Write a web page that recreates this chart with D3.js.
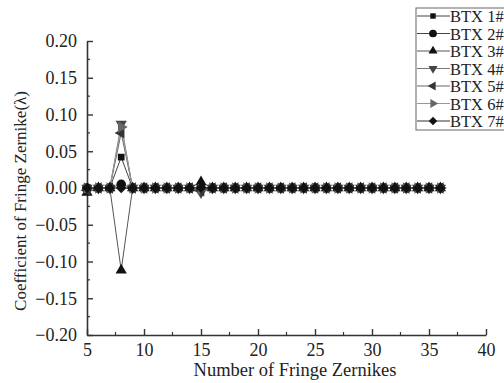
<!DOCTYPE html>
<html>
<head>
<meta charset="utf-8">
<script src="https://cdn.jsdelivr.net/npm/d3@7"></script>
<style>
  body { margin: 0; background: #fff; }
  text { font-family: "Liberation Serif", "Times New Roman", serif; fill: #222; }
</style>
</head>
<body>
<div id="chart"></div>
<script>
// zernike term numbers (x) and the 7 series
var terms = d3.range(5, 37)
var seriesNames = ["BTX 1#", "BTX 2#", "BTX 3#", "BTX 4#", "BTX 5#", "BTX 6#", "BTX 7#"]
var btx1 = [0, 0, 0, 0.042, 0, 0, 0, 0, 0, 0, 0, 0, 0, 0, 0, 0, 0, 0, 0, 0, 0, 0, 0, 0, 0, 0, 0, 0, 0, 0, 0, 0]
var btx2 = [0, 0, 0, 0.005, 0, 0, 0, 0, 0, 0, 0, 0, 0, 0, 0, 0, 0, 0, 0, 0, 0, 0, 0, 0, 0, 0, 0, 0, 0, 0, 0, 0]
var btx3 = [-0.006, 0, 0, -0.112, 0, 0, 0, 0, 0, 0, 0.008, 0, 0, 0, 0, 0, 0, 0, 0, 0, 0, 0, 0, 0, 0, 0, 0, 0, 0, 0, 0, 0]
var btx4 = [0, 0, 0, 0.087, 0, 0, 0, 0, 0, 0, -0.006, 0, 0, 0, 0, 0, 0, 0, 0, 0, 0, 0, 0, 0, 0, 0, 0, 0, 0, 0, 0, 0]
var btx5 = [-0.003, 0, 0, 0.075, 0, 0, 0, 0, 0, 0, -0.004, 0, 0, 0, 0, 0, 0, 0, 0, 0, 0, 0, 0, 0, 0, 0, 0, 0, 0, 0, 0, 0]
var btx6 = [0, 0, 0, 0.083, 0, 0, 0, 0, 0, 0, -0.002, 0, 0, 0, 0, 0, 0, 0, 0, 0, 0, 0, 0, 0, 0, 0, 0, 0, 0, 0, 0, 0]
var btx7 = [0, 0, 0, 0, 0, 0, 0, 0, 0, 0, 0, 0, 0, 0, 0, 0, 0, 0, 0, 0, 0, 0, 0, 0, 0, 0, 0, 0, 0, 0, 0, 0]
var xTicks = [5, 10, 15, 20, 25, 30, 35, 40]
var yTicks = [-0.20, -0.15, -0.10, -0.05, 0.00, 0.05, 0.10, 0.15, 0.20]

var allSeries = [btx1, btx2, btx3, btx4, btx5, btx6, btx7]

// marker shape / rotation / colour per series
var shapes = [d3.symbolSquare, d3.symbolCircle, d3.symbolTriangle, d3.symbolTriangle,
              d3.symbolTriangle, d3.symbolTriangle, d3.symbolSquare]
var rotations = [0, 0, 0, 180, -90, 90, 45]
var sizes = [45, 72, 55, 55, 55, 55, 55]
var markerColors = ["#111", "#111", "#111", "#444", "#333", "#666", "#111"]
var lineColors = ["#444", "#444", "#555", "#777", "#666", "#999", "#333"]

var width = 504
var height = 383
var plotLeft = 87, plotRight = 486, plotTop = 41, plotBottom = 335

var svg = d3.select("#chart")
            .append("svg")
            .attr("width", width)
            .attr("height", height)

var x = d3.scaleLinear().domain([5, 40]).range([plotLeft, plotRight])
var y = d3.scaleLinear().domain([-0.2, 0.2]).range([plotBottom, plotTop])

// minor ticks
var xMinor = d3.range(7.5, 40, 5)
var yMinor = d3.range(-0.175, 0.2, 0.05)

svg.selectAll(".xminor")
   .data(xMinor)
   .enter()
   .append("line")
   .attr("x1", function(d) { return x(d) })
   .attr("x2", function(d) { return x(d) })
   .attr("y1", plotBottom)
   .attr("y2", plotBottom - 3)
   .attr("stroke", "#333")
   .attr("stroke-width", 1.2)

svg.selectAll(".yminor")
   .data(yMinor)
   .enter()
   .append("line")
   .attr("x1", plotLeft)
   .attr("x2", plotLeft + 3)
   .attr("y1", function(d) { return y(d) })
   .attr("y2", function(d) { return y(d) })
   .attr("stroke", "#333")
   .attr("stroke-width", 1.2)

// axes with inward ticks
var xAxis = d3.axisBottom(x).tickValues(xTicks).tickSizeInner(-6).tickSizeOuter(0).tickPadding(8)
var yAxis = d3.axisLeft(y).tickValues(yTicks).tickSizeInner(-6).tickSizeOuter(0).tickPadding(10)
              .tickFormat(d3.format(".2f"))

svg.append("g")
   .attr("transform", "translate(0," + plotBottom + ")")
   .call(xAxis)
svg.append("g")
   .attr("transform", "translate(" + plotLeft + ",0)")
   .call(yAxis)

svg.selectAll(".domain").attr("stroke", "#333").attr("stroke-width", 1.6)
svg.selectAll(".tick line").attr("stroke", "#333").attr("stroke-width", 1.4)
svg.selectAll(".tick text")
   .attr("font-family", "Liberation Serif, serif")
   .attr("font-size", 18)
   .attr("fill", "#222")

// axis titles
svg.append("text")
   .attr("x", 295)
   .attr("y", 376)
   .attr("text-anchor", "middle")
   .style("font-size", "18.5px")
   .text("Number of Fringe Zernikes")

svg.append("text")
   .attr("transform", "translate(26,201) rotate(-90)")
   .attr("text-anchor", "middle")
   .style("font-size", "17px")
   .text("Coefficient of Fringe Zernike(λ)")

// lines
var line = d3.line()
  .x(function(d, i) { return x(terms[i]) })
  .y(function(d) { return y(d) })

svg.selectAll(".series")
   .data(allSeries)
   .enter()
   .append("path")
   .attr("d", line)
   .attr("fill", "none")
   .attr("stroke", function(d, i) { return lineColors[i] })
   .attr("stroke-width", 1)

// markers
allSeries.forEach(function(vals, s) {
  var sym = d3.symbol().type(shapes[s]).size(sizes[s])
  svg.selectAll(".m" + s)
     .data(vals)
     .enter()
     .append("path")
     .attr("d", sym)
     .attr("transform", function(d, i) {
        return "translate(" + x(terms[i]) + "," + y(d) + ") rotate(" + rotations[s] + ")"
     })
     .attr("fill", markerColors[s])
})

// legend
var legX = 416, legY = 8, rowH = 17.5
svg.append("rect")
   .attr("x", legX)
   .attr("y", legY)
   .attr("width", 100)
   .attr("height", 122)
   .attr("fill", "#fff")
   .attr("stroke", "#666")
   .attr("stroke-width", 1)

seriesNames.forEach(function(name, s) {
  var cy = legY + 8 + s * rowH
  svg.append("line")
     .attr("x1", legX + 1)
     .attr("x2", legX + 34)
     .attr("y1", cy)
     .attr("y2", cy)
     .attr("stroke", lineColors[s])
     .attr("stroke-width", 1)
  svg.append("path")
     .attr("d", d3.symbol().type(shapes[s]).size(sizes[s] * 0.65)())
     .attr("transform", "translate(" + (legX + 17) + "," + cy + ") rotate(" + rotations[s] + ")")
     .attr("fill", markerColors[s])
  svg.append("text")
     .attr("x", legX + 34)
     .attr("y", cy + 6)
     .style("font-size", "16.5px")
     .text(name)
})
</script>
</body>
</html>
